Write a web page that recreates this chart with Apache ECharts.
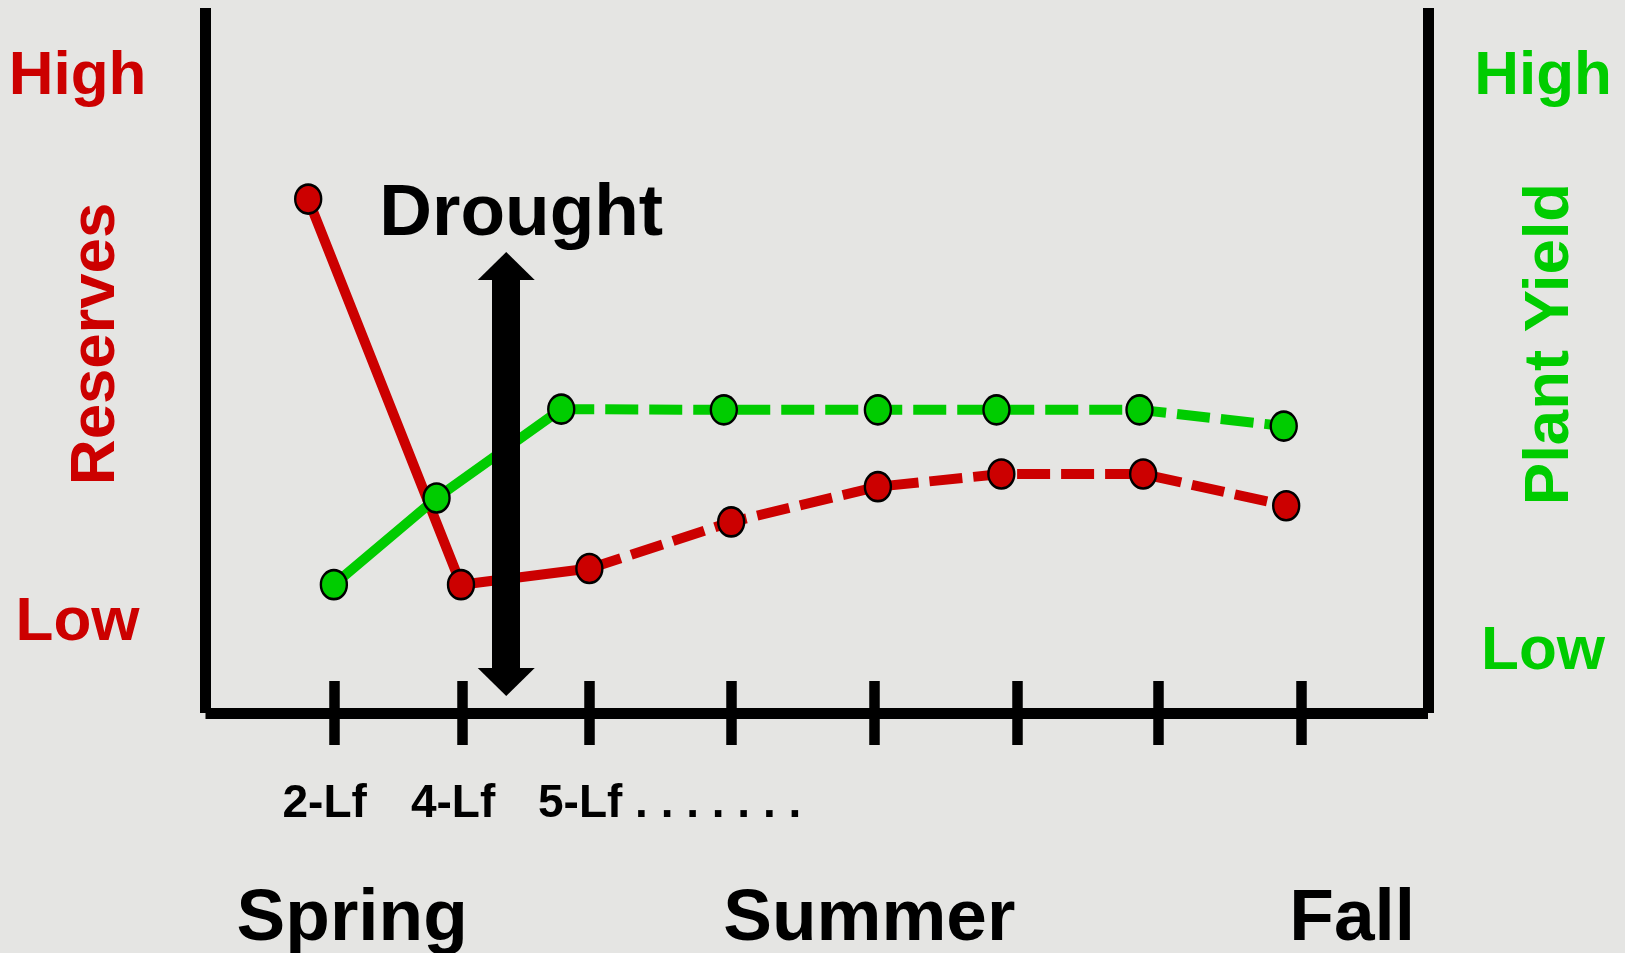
<!DOCTYPE html>
<html>
<head>
<meta charset="utf-8">
<script src="https://cdn.jsdelivr.net/npm/echarts@6/dist/echarts.min.js"></script>
<style>
  html, body { margin: 0; padding: 0; background: #e5e5e3; }
  #chart { width: 1625px; height: 953px; }
</style>
</head>
<body>
<div id="chart"></div>
<script>
// Season time runs 0..100 along x; levels run 0 (low) .. 100 (high) along y.
const stageTicks = [10.5, 21.0, 31.4, 43.0, 54.7, 66.4, 77.9, 89.6];
const stageLabels = ['2-Lf', '4-Lf', '5-Lf . . . . . . .'];
const seasons = ['Spring', 'Summer', 'Fall'];
const seasonAt = [12.0, 54.3, 93.8];

// [season time, level]
const reserves = [[8.4, 72.9], [20.9, 18.2], [31.4, 20.5], [43.0, 27.1], [55.0, 32.1], [65.1, 33.9], [76.7, 33.9], [88.4, 29.4]];
const plantYield = [[10.5, 18.2], [18.9, 30.5], [29.1, 43.1], [42.4, 43.0], [55.0, 43.0], [64.7, 43.0], [76.4, 43.0], [88.2, 40.7]];
const earlyCount = 3; // points up to the 5-leaf stage are drawn solid, later ones dashed

const levelNames = ['Low', 'High'];
const reservesLevelAt = [12.8, 90.2];
const yieldLevelAt = [8.6, 90.2];

const droughtAt = 24.6;
const droughtSpan = [4.4, 63.4];

const RED = '#cc0000';
const GREEN = '#00cc00';
const FONT = '"Liberation Sans", Arial, Helvetica, sans-serif';

const labelShift = 4.2; // stage labels start a little left of their tick
const stageLabelAt = stageLabels.map((_, i) => +(stageTicks[i] - labelShift).toFixed(2));

function lookup(values, names) {
  return v => {
    const i = values.findIndex(x => Math.abs(x - v) < 1e-6);
    return i < 0 ? '' : names[i];
  };
}

const chart = echarts.init(document.getElementById('chart'), null, { renderer: 'canvas' });

const markerStyle = (color) => ({ color: color, borderColor: '#000', borderWidth: 2.5, opacity: 1 });
const frameLine = { color: '#000', width: 11, cap: 'butt' };

chart.setOption({
  backgroundColor: '#e5e5e3',
  animation: false,
  textStyle: { fontFamily: FONT, fontWeight: 'bold' },
  grid: { left: 205.5, right: 197, top: 8, bottom: 240, outerBoundsMode: 'none' },
  xAxis: [
    {
      // growth stages
      type: 'value', min: 0, max: 100, position: 'bottom', offset: -32,
      axisLine: { show: false, onZero: false },
      splitLine: { show: false },
      axisTick: { show: true, customValues: stageTicks, length: 64, inside: false,
                  lineStyle: { color: '#000', width: 10.5 } },
      axisLabel: { show: true, customValues: stageLabelAt, align: 'left', margin: 100,
                   fontSize: 46, fontWeight: 'bold', color: '#000', fontFamily: FONT,
                   formatter: lookup(stageLabelAt, stageLabels) }
    },
    {
      // seasons
      type: 'value', min: 0, max: 100, position: 'bottom',
      axisLine: { show: true, onZero: false, lineStyle: frameLine },
      splitLine: { show: false },
      axisTick: { show: false },
      axisLabel: { show: true, customValues: seasonAt, align: 'center', margin: 170,
                   fontSize: 73, fontWeight: 'bold', color: '#000', fontFamily: FONT,
                   formatter: lookup(seasonAt, seasons) }
    }
  ],
  yAxis: [
    {
      type: 'value', min: 0, max: 100, position: 'left',
      name: 'Reserves', nameLocation: 'middle', nameRotate: 90, nameGap: 77,
      nameMoveOverlap: false,
      nameTextStyle: { color: RED, fontSize: 63.5, fontWeight: 'bold', fontFamily: FONT, padding: [0, 0, 0, 33] },
      axisLine: { show: true, onZero: false, lineStyle: frameLine },
      splitLine: { show: false },
      axisTick: { show: false },
      axisLabel: { show: true, customValues: reservesLevelAt, align: 'center', margin: 128,
                   fontSize: 62, fontWeight: 'bold', color: RED, fontFamily: FONT,
                   formatter: lookup(reservesLevelAt, levelNames) }
    },
    {
      type: 'value', min: 0, max: 100, position: 'right',
      name: 'Plant Yield', nameLocation: 'middle', nameRotate: 90, nameGap: 90,
      nameMoveOverlap: false,
      nameTextStyle: { color: GREEN, fontSize: 63.5, fontWeight: 'bold', fontFamily: FONT, padding: [0, 0, 0, 33] },
      axisLine: { show: true, onZero: false, lineStyle: frameLine },
      splitLine: { show: false },
      axisTick: { show: false },
      axisLabel: { show: true, customValues: yieldLevelAt, align: 'center', margin: 115,
                   fontSize: 62, fontWeight: 'bold', color: GREEN, fontFamily: FONT,
                   formatter: lookup(yieldLevelAt, levelNames) }
    }
  ],
  series: [
    {
      name: 'Reserves', type: 'line', yAxisIndex: 0, z: 2, symbol: 'none', silent: true,
      data: reserves.slice(0, earlyCount),
      lineStyle: { color: RED, width: 10, type: 'solid' }
    },
    {
      name: 'Reserves', type: 'line', yAxisIndex: 0, z: 2, symbol: 'none', silent: true,
      data: reserves.slice(earlyCount - 1),
      lineStyle: { color: RED, width: 10, type: [33, 11] }
    },
    {
      name: 'Plant Yield', type: 'line', yAxisIndex: 1, z: 3, symbol: 'none', silent: true,
      data: plantYield.slice(0, earlyCount),
      lineStyle: { color: GREEN, width: 10, type: 'solid' }
    },
    {
      name: 'Plant Yield', type: 'line', yAxisIndex: 1, z: 3, symbol: 'none', silent: true,
      data: plantYield.slice(earlyCount - 1),
      lineStyle: { color: GREEN, width: 10, type: [33, 11] }
    },
    {
      name: 'Reserves', type: 'scatter', yAxisIndex: 0, z: 4, silent: true,
      symbol: 'circle', symbolSize: [26, 29], itemStyle: markerStyle(RED),
      data: reserves
    },
    {
      name: 'Plant Yield', type: 'scatter', yAxisIndex: 1, z: 5, silent: true,
      symbol: 'circle', symbolSize: [26, 29], itemStyle: markerStyle(GREEN),
      data: plantYield
    },
    {
      name: 'Drought', type: 'line', yAxisIndex: 0, z: 10, data: [], silent: true,
      markLine: {
        silent: true, animation: false,
        symbol: ['triangle', 'triangle'],
        itemStyle: { color: '#000' },
        lineStyle: { color: '#000', width: 28, type: 'solid', opacity: 1 },
        label: { show: true, position: 'end', formatter: 'Drought', distance: 15,
                 fontSize: 73, fontWeight: 'bold', color: '#000', fontFamily: FONT,
                 padding: [0, 0, 0, 30] },
        emphasis: { disabled: true },
        data: [[
          { coord: [droughtAt, droughtSpan[0]], symbolSize: [57, 28] },
          { coord: [droughtAt, droughtSpan[1]], symbolSize: [57, 28] }
        ]]
      }
    }
  ]
});
</script>
</body>
</html>
